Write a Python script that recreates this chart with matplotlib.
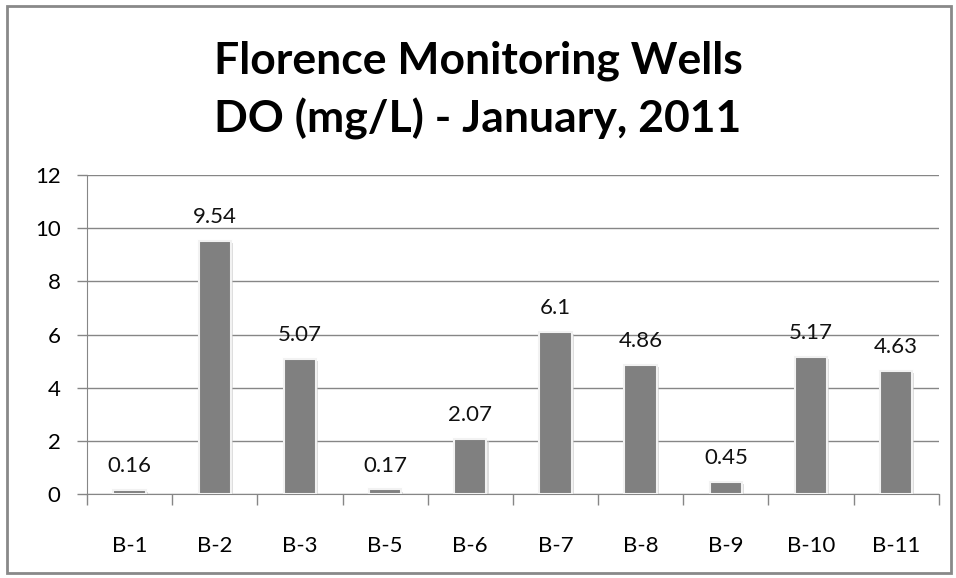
import matplotlib.pyplot as plt
from matplotlib.patches import Rectangle
import matplotlib.patheffects as pe

# data
wells = ["B-1", "B-2", "B-3", "B-5", "B-6", "B-7", "B-8", "B-9", "B-10", "B-11"]
do_values = [0.16, 9.54, 5.07, 0.17, 2.07, 6.1, 4.86, 0.45, 5.17, 4.63]
value_labels = ["0.16", "9.54", "5.07", "0.17", "2.07", "6.1", "4.86", "0.45", "5.17", "4.63"]
y_ticks = [0, 2, 4, 6, 8, 10, 12]

plt.rcParams["font.family"] = ["Lato", "DejaVu Sans"]

fig = plt.figure(figsize=(9.56, 5.78), dpi=100)
fig.patch.set_facecolor("white")

# chart border
fig.patches.append(Rectangle((7 / 956, 5 / 578), 944 / 956, 567 / 578,
                             transform=fig.transFigure, fill=False,
                             edgecolor="#898989", linewidth=2))

ax = fig.add_axes([0.091, 0.1453, 0.891, 0.5517])

x = list(range(len(wells)))
bars = ax.bar(x, do_values, width=0.38, color="#808080",
              edgecolor="#f2f2f2", linewidth=1.5, zorder=3)
for b in bars:
    b.set_path_effects([pe.SimplePatchShadow(offset=(1.5, -1.5), shadow_rgbFace="#c8c8c8", alpha=0.6),
                        pe.Normal()])

for xi, v, lab in zip(x, do_values, value_labels):
    ax.annotate(lab, (xi, v), xytext=(0, 10), textcoords="offset points",
                ha="center", va="bottom", fontsize=16, color="#111111")

ax.set_xlim(-0.5, len(wells) - 0.5)
ax.set_ylim(0, 12)
ax.set_yticks(y_ticks)
ax.set_yticklabels([str(t) for t in y_ticks], fontsize=16)

ax.set_xticks([i - 0.5 for i in range(len(wells) + 1)])
ax.set_xticklabels([])
ax.set_xticks(x, minor=True)
ax.set_xticklabels(wells, minor=True, fontsize=16)
ax.tick_params(axis="x", which="major", length=8, color="#868686", width=1)
ax.tick_params(axis="x", which="minor", length=0, pad=30)
ax.tick_params(axis="y", length=7, color="#868686", width=1, pad=12)

ax.grid(axis="y", color="#868686", linewidth=1, zorder=0)
ax.set_axisbelow(True)
for side in ["top", "right"]:
    ax.spines[side].set_visible(False)
ax.spines["left"].set_color("#868686")
ax.spines["bottom"].set_color("#868686")

fig.text(0.5, 0.895, "Florence Monitoring Wells", ha="center", va="center",
         fontsize=32, fontweight="bold")
fig.text(0.5, 0.795, "DO (mg/L) - January, 2011", ha="center", va="center",
         fontsize=32, fontweight="bold")

fig.savefig("out.png", dpi=100)
